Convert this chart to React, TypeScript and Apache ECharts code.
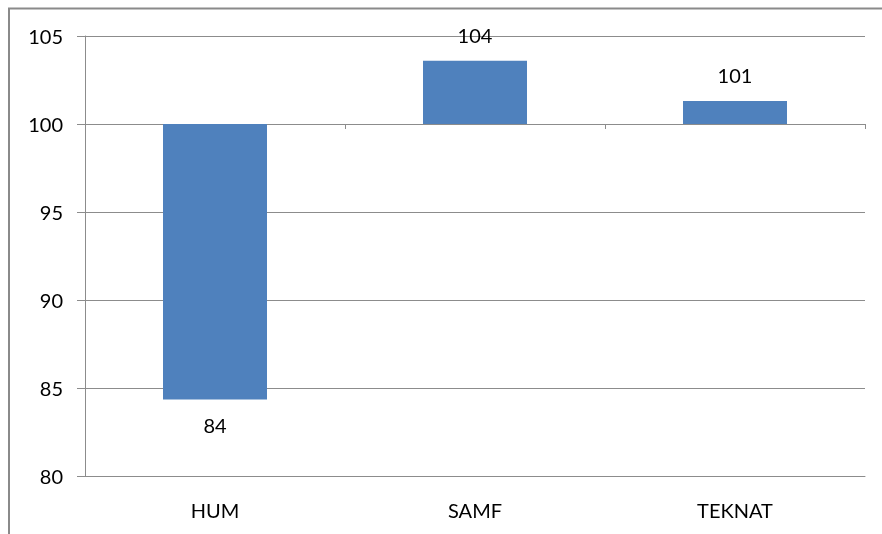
import React, { useEffect, useRef } from "react";
import * as echarts from "echarts";

const categories = ["HUM", "SAMF", "TEKNAT"];
const values = [84.35, 103.6, 101.3];
const baseline = 100;
const yTicks = { min: 80, max: 105, interval: 5 };

export default function App() {
  const ref = useRef<HTMLDivElement>(null);
  useEffect(() => {
    document.body.style.margin = "0";
    const chart = echarts.init(ref.current!, null, { renderer: "svg" });
    const font = "Lato, 'Liberation Sans', sans-serif";
    const gray = "#8c8c8c";
    const hidden = values.map((v) => Math.min(v, baseline));
    const visible = values.map((v) => ({
      value: Math.abs(v - baseline),
      label: { position: v < baseline ? "bottom" : "top" },
    }));
    chart.setOption({
      animation: false,
      grid: { left: 85, right: 17, top: 36, bottom: 58 },
      graphic: [
        {
          type: "rect",
          shape: { x: 9, y: 8.5, width: 1200, height: 1200 },
          style: { fill: "none", stroke: "#8a8a8a", lineWidth: 2 },
          silent: true,
        },
      ],
      xAxis: [
        {
          type: "category",
          data: categories,
          position: "bottom",
          axisLine: { show: true, lineStyle: { color: gray } },
          axisTick: { show: false },
          axisLabel: { color: "#000", fontSize: 20, fontFamily: font, margin: 24 },
        },
        {
          type: "category",
          data: categories,
          position: "top",
          offset: -88,
          axisLine: { show: false },
          axisTick: { show: true, inside: true, length: 5, lineStyle: { color: gray } },
          axisLabel: { show: false },
        },
      ],
      yAxis: {
        type: "value",
        min: yTicks.min,
        max: yTicks.max,
        interval: yTicks.interval,
        axisLine: { show: true, lineStyle: { color: gray } },
        axisTick: { show: true, length: 8, lineStyle: { color: gray } },
        splitLine: { show: true, lineStyle: { color: gray, width: 1 } },
        axisLabel: { color: "#000", fontSize: 20, fontFamily: font, margin: 22 },
      },
      series: [
        {
          type: "bar",
          stack: "s",
          data: hidden,
          barWidth: "40%",
          itemStyle: { color: "transparent" },
          silent: true,
        },
        {
          type: "bar",
          stack: "s",
          data: visible,
          barWidth: "40%",
          itemStyle: { color: "#4F81BD" },
          label: {
            show: true,
            distance: 16,
            color: "#000",
            fontSize: 20,
            fontFamily: font,
            formatter: (p: any) => String(Math.round(values[p.dataIndex])),
          },
        },
      ],
    });
    return () => chart.dispose();
  }, []);
  return <div ref={ref} style={{ width: 882, height: 534, position: "fixed", left: 0, top: 0 }} />;
}
